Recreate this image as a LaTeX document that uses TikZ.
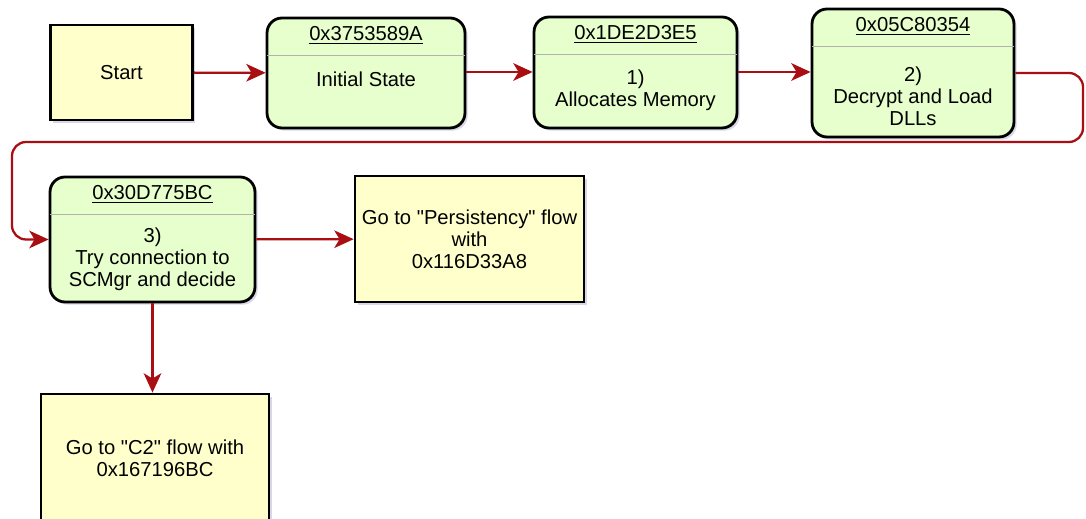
\documentclass[tikz,border=0pt]{standalone}
\usepackage{fontspec}
\setmainfont{Liberation Sans}[Ligatures=TeXOff]
\usetikzlibrary{arrows.meta,shadows}
\definecolor{flowred}{RGB}{168,14,18}
\definecolor{stategreen}{RGB}{230,255,204}
\definecolor{gotoyellow}{RGB}{255,255,204}
\definecolor{rulegray}{RGB}{178,178,178}
\tikzset{
	box/.style={draw=black, line width=1.6pt, align=center, inner sep=0pt,
		drop shadow={shadow xshift=1.5pt, shadow yshift=-1.5pt, opacity=0.25, fill=blue!25!gray},
		font=\fontsize{11.5}{12.5}\selectfont},
	gotobox/.style={box, fill=gotoyellow},
	statebox/.style={box, fill=stategreen, rounded corners=0.3cm},
	txt/.style={align=center, inner sep=0pt, font=\fontsize{11.5}{12.5}\selectfont},
	rule/.style={draw=rulegray, line width=1pt},
	flow/.style={draw=flowred, line width=1.3pt, -{Stealth[length=11pt, width=10pt, inset=3pt]}}
}
% state with address on top: name, centre, width, height, address, text position, text
\def\stateblock(#1)(#2,#3)(#4:#5)#6(#7)#8{
	\node[statebox, minimum width=#4cm, minimum height=#5cm] (#1) at (#2,#3) {};
	\node[txt] (#1hdr) at ([yshift=-0.38cm]#1.north) {\underline{#6}};
	\draw[rule] ([xshift=0.8pt, yshift=-0.78cm]#1.north west) -- ([xshift=-0.8pt, yshift=-0.78cm]#1.north east);
	\node[txt] (#1txt) at (#7) {#8};
}

\begin{document}
\begin{tikzpicture}[x=0.02cm, y=-0.02cm]
		%%%%% START %%%%%
		\useasboundingbox (0,0) rectangle (1086,519);
		
		\node[gotobox, minimum width=2.84cm, minimum height=1.9cm] (start) at (121.5,72.5) {Start};
		
		\stateblock(s1)(366,73)(3.96:2.2){0x3753589A}(366,79){Initial State}
		\stateblock(s2)(635.5,72.5)(4.06:2.22){0x1DE2D3E5}(635.5,90){1)\\Allocates Memory}
		\stateblock(s3)(913,73)(4.04:2.56){0x05C80354}(913,96){2)\\Decrypt and Load\\DLLs}
		\stateblock(s4)(152.5,239.5)(4.1:2.5){0x30D775BC}(152.5,259){3)\\Try connection to\\SCMgr and decide}
		
		\node[gotobox, minimum width=4.58cm, minimum height=2.52cm] (pers) at (469.5,239) {Go to "Persistency" flow\\with\\0x116D33A8};
		\node[gotobox, minimum width=4.56cm, minimum height=2.56cm] (c2) at (155,458) {Go to "C2" flow with\\0x167196BC};
		
		\draw[flow] (start) -- (s1);
		\draw[flow] (s1.east |- 0,72) -- (s2.west |- 0,72);
		\draw[flow] (s2.east |- 0,72) -- (s3.west |- 0,72);
		
		% long way round to the second row
		\coordinate (loopa) at (1083,73);
		\coordinate (loopb) at (1083,142);
		\coordinate (loopc) at (12,142);
		\coordinate (loopd) at (12,239.5);
		\draw[flow, rounded corners=8pt] (s3.east) -- (loopa) -- (loopb) -- (loopc) -- (loopd) -- (s4.west);
		
		\draw[flow] (s4) -- (pers);
		\draw[flow] (s4.south) -- (s4.south |- c2.north);
		%%%%% END %%%%%
	\end{tikzpicture}
\end{document}
